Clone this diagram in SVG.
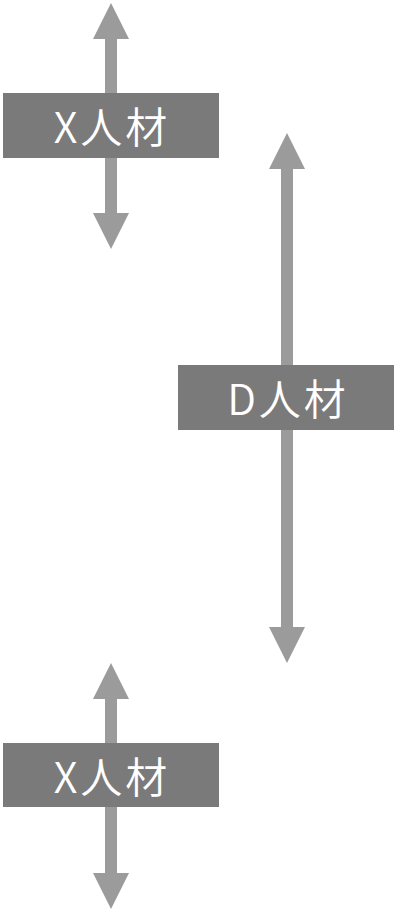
<svg xmlns="http://www.w3.org/2000/svg" width="396" height="910" viewBox="0 0 396 910">
<style>
.box{fill:#7a7a7a}
.lbl{fill:#ffffff;font-family:"Noto Sans CJK JP","Noto Sans",sans-serif;font-size:42px;font-weight:350;text-anchor:middle;letter-spacing:3px}
.conn{stroke:#9b9b9b;stroke-width:12;fill:none;marker-start:url(#ah);marker-end:url(#ah)}
</style>
<defs>
<marker id="ah" viewBox="0 0 36 36" refX="0" refY="18" markerWidth="36" markerHeight="36" markerUnits="userSpaceOnUse" orient="auto-start-reverse">
<path d="M0,0 L36,18 L0,36 z" fill="#9b9b9b"/>
</marker>
</defs>
<g id="connectors">
<line class="conn" x1="111" y1="39" x2="111" y2="213"/>
<line class="conn" x1="287" y1="169" x2="287" y2="627"/>
<line class="conn" x1="111" y1="699" x2="111" y2="873"/>
</g>
<g id="node-x-top">
<rect class="box" x="3" y="93" width="216" height="65"/>
<text class="lbl" x="112" y="143">X人材</text>
</g>
<g id="node-d">
<rect class="box" x="178" y="365" width="216" height="65"/>
<text class="lbl" x="288" y="415">D人材</text>
</g>
<g id="node-x-bottom">
<rect class="box" x="3" y="743" width="216" height="64"/>
<text class="lbl" x="112" y="793">X人材</text>
</g>
</svg>
